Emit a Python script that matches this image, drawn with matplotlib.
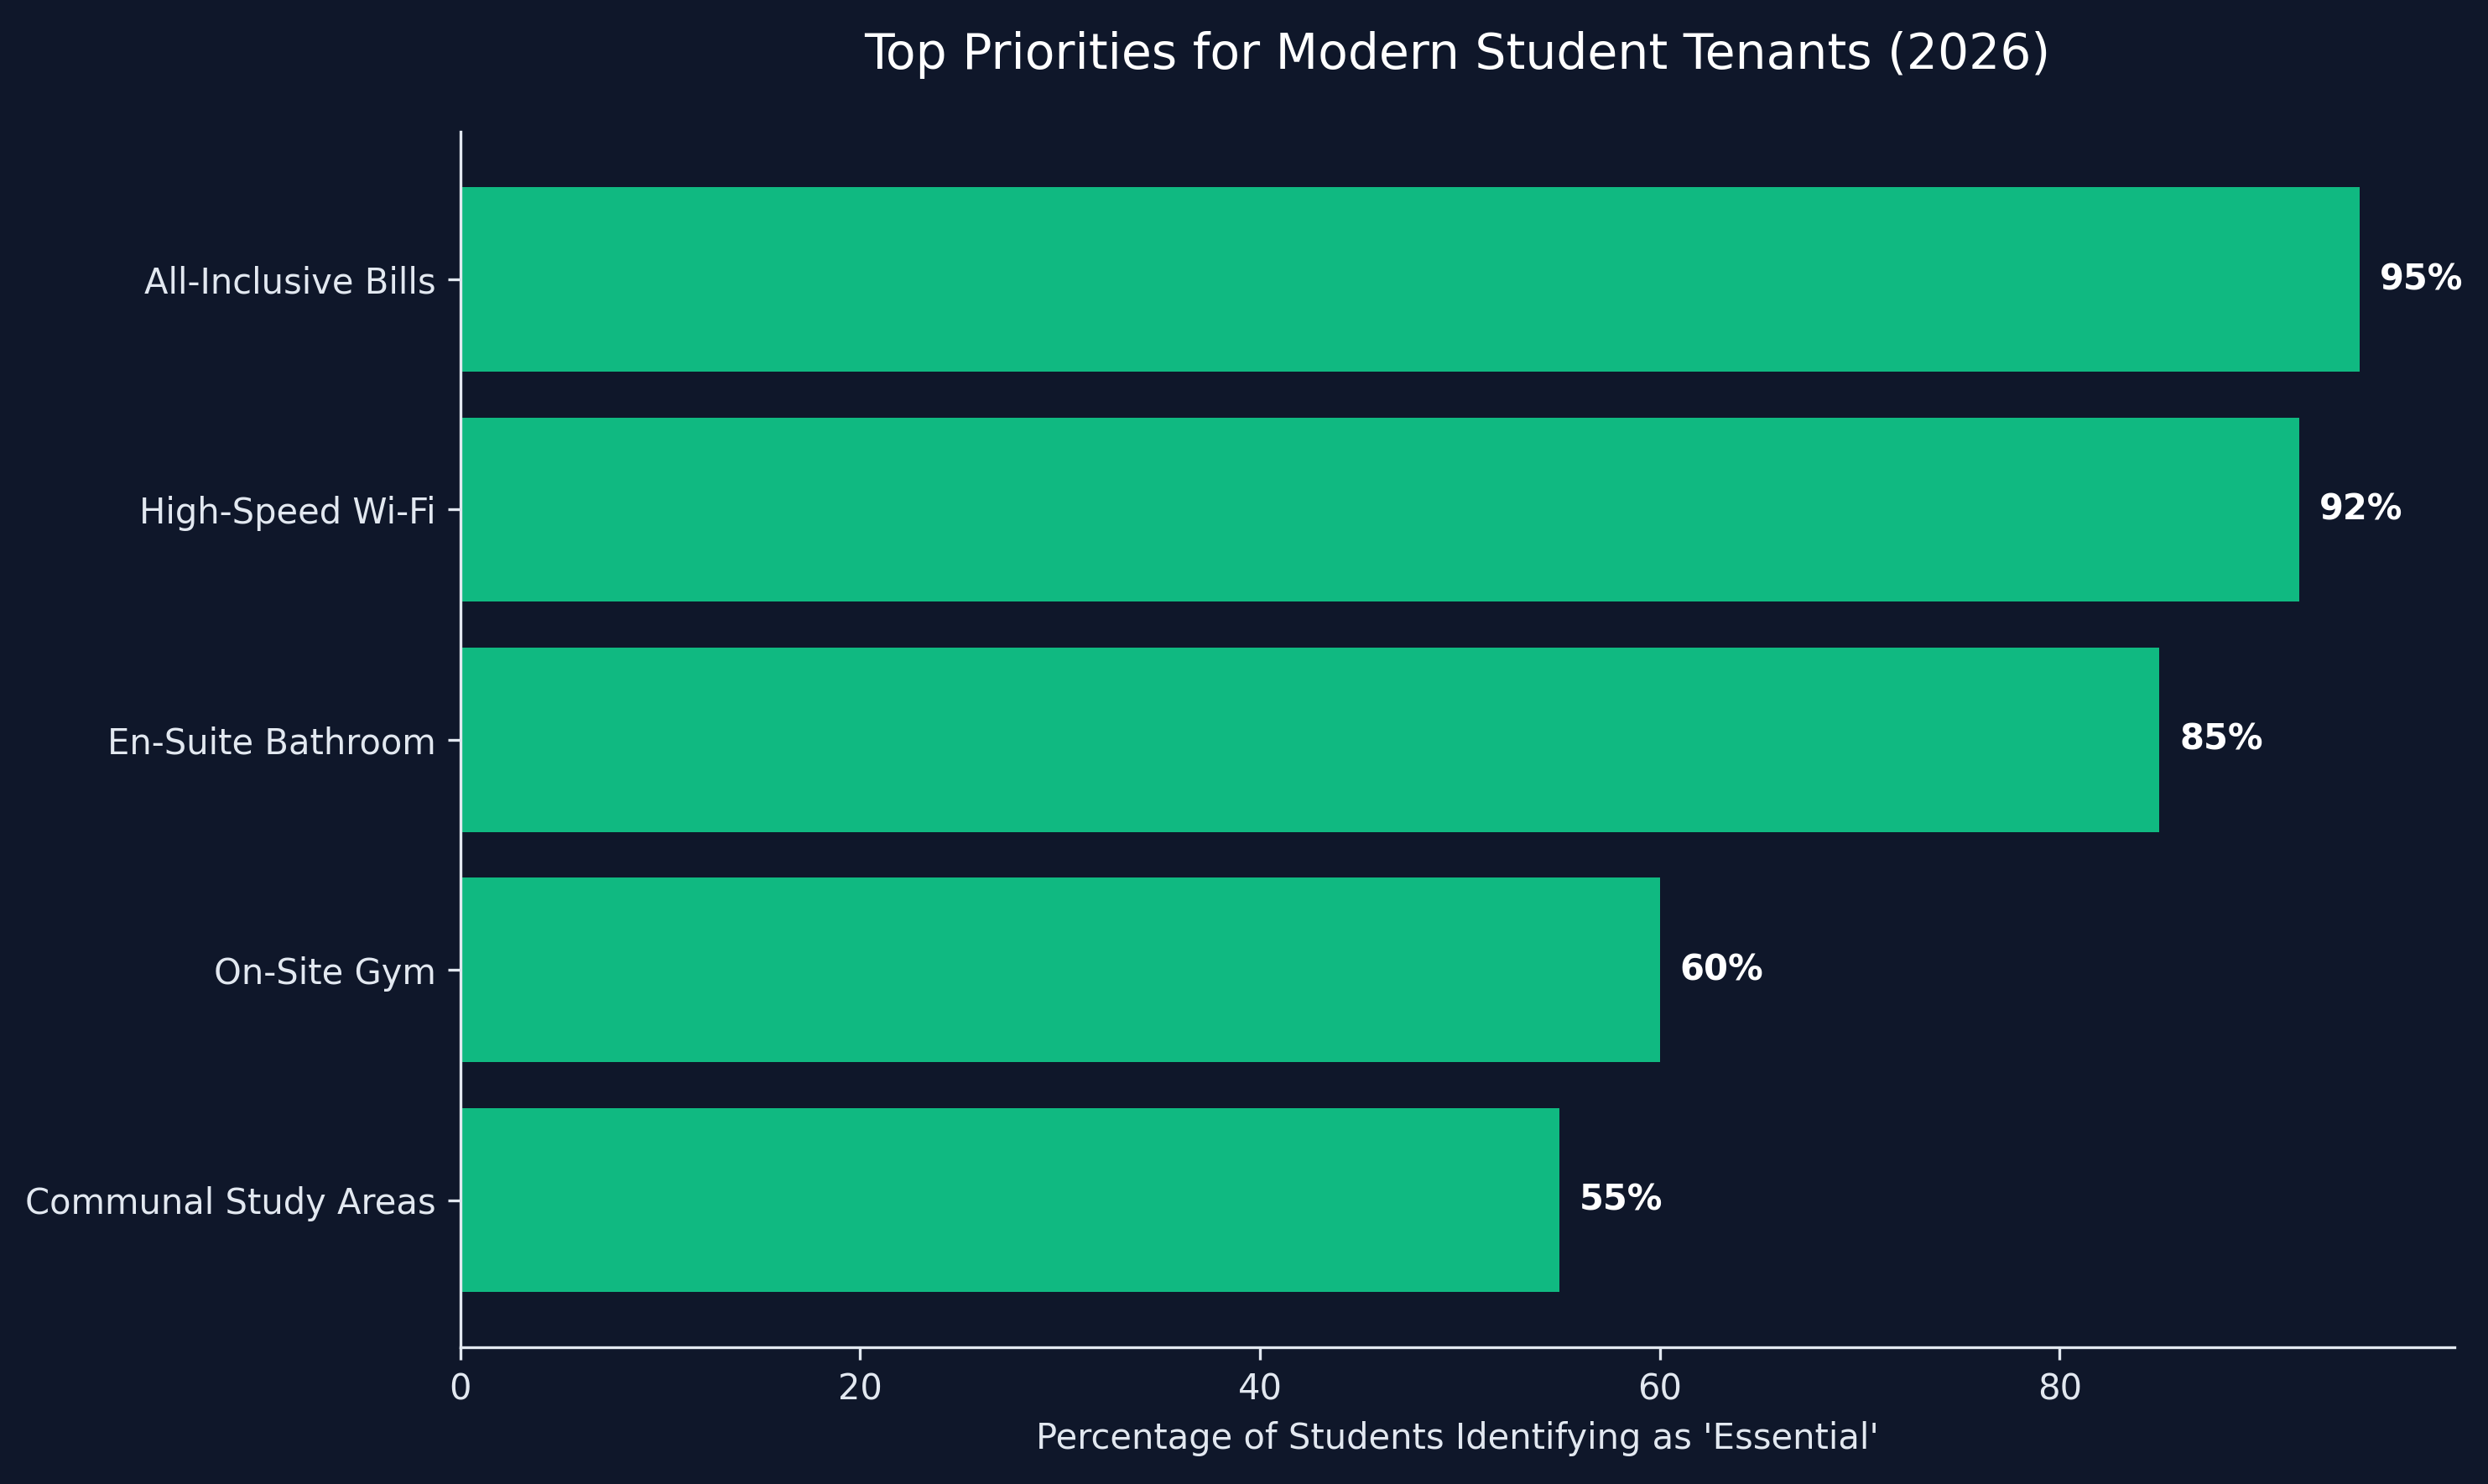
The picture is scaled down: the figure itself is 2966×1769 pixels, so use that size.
import matplotlib
matplotlib.use("Agg")
import matplotlib.pyplot as plt

categories = ["All-Inclusive Bills", "High-Speed Wi-Fi", "En-Suite Bathroom",
              "On-Site Gym", "Communal Study Areas"]
values = [95, 92, 85, 60, 55]

BG = "#0f172a"
BAR = "#10b981"
TXT = "#e2e8f0"

fig = plt.figure(figsize=(2966/300, 1769/300), dpi=300, facecolor=BG)
ax = fig.add_axes([0.185, 0.092, 0.9865-0.185, 0.911-0.092])
ax.set_facecolor(BG)

ypos = list(range(len(categories)))[::-1]
ax.barh(ypos, values, height=0.8, color=BAR)
ax.set_yticks(ypos)
ax.set_yticklabels(categories)

for y, v in zip(ypos, values):
    ax.text(v + 1, y, f"{v}%", va="center", ha="left", color="white",
            fontsize=10, fontweight="bold")

ax.set_xlabel("Percentage of Students Identifying as 'Essential'", color=TXT, fontsize=10)
ax.set_title("Top Priorities for Modern Student Tenants (2026)", color="white",
             fontsize=14, pad=18)

for s in ["top", "right"]:
    ax.spines[s].set_visible(False)
for s in ["left", "bottom"]:
    ax.spines[s].set_color(TXT)
ax.tick_params(colors=TXT, labelsize=10)

fig.savefig("out.png", dpi=300, facecolor=BG)
